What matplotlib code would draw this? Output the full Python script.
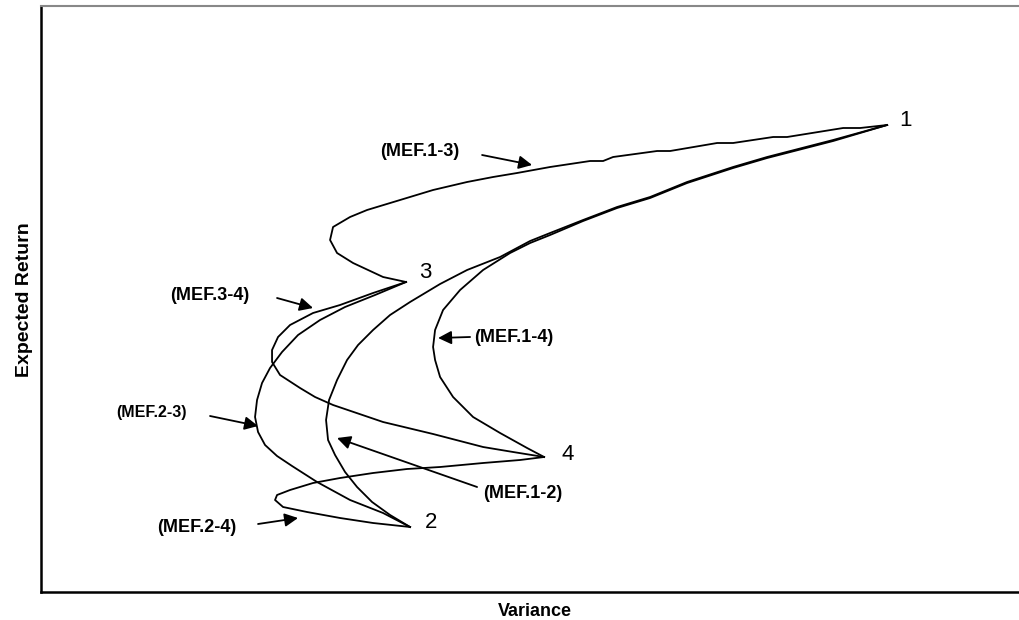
import matplotlib
matplotlib.use("Agg")
import matplotlib.pyplot as plt

plt.rcParams['font.family'] = ['Liberation Sans', 'DejaVu Sans']

# corner portfolios (variance, expected return)
corners = {
    "1": (84.6, 46.7),
    "2": (36.9, 6.5),
    "3": (36.5, 31.0),
    "4": (50.3, 13.5),
}
corner_text_pos = {
    "1": (85.8, 47.1),
    "2": (38.4, 6.9),
    "3": (37.8, 31.9),
    "4": (52.0, 13.7),
}

# frontier traces
mef13_var = [84.6, 81.9, 80.2, 74.6, 73.2, 69.2, 67.6, 62.9, 61.6, 57.2, 56.2, 54.9,
             50.9, 47.6, 45.2, 42.6, 39.2, 35.9, 32.6, 30.9, 29.2, 28.9, 29.6, 31.2,
             34.2, 36.5]
mef13_ret = [46.7, 46.4, 46.4, 45.5, 45.5, 44.9, 44.9, 44.1, 44.1, 43.5, 43.1, 43.1,
             42.5, 41.9, 41.5, 41.0, 40.2, 39.2, 38.2, 37.5, 36.5, 35.2, 33.9, 32.9,
             31.5, 31.0]

mef12_var = [84.6, 79.2, 72.6, 69.2, 64.6, 60.9, 57.6, 54.2, 50.9, 48.9, 45.9, 42.6,
             39.9, 36.9, 34.9, 33.2, 31.7, 30.6, 29.6, 28.8, 28.5, 28.7, 29.4, 30.4,
             31.6, 33.1, 34.9, 36.9]
mef12_ret = [46.7, 45.2, 43.5, 42.5, 41.0, 39.5, 38.5, 37.2, 35.9, 35.1, 33.5, 32.2,
             30.8, 29.0, 27.7, 26.2, 24.7, 23.2, 21.2, 19.2, 17.2, 15.2, 13.7, 12.0,
             10.5, 9.0, 7.7, 6.5]

mef14_var = [84.6, 79.2, 72.6, 69.2, 64.6, 60.9, 57.6, 54.2, 50.9, 48.9, 46.9, 44.2,
             41.9, 40.2, 39.4, 39.2, 39.4, 39.9, 41.2, 43.2, 45.9, 48.6, 50.3]
mef14_ret = [46.7, 45.1, 43.4, 42.4, 40.9, 39.4, 38.4, 37.1, 35.7, 34.9, 33.9, 32.2,
             30.2, 28.2, 26.2, 24.5, 23.2, 21.5, 19.5, 17.5, 15.9, 14.4, 13.5]

mef34_var = [36.5, 33.2, 29.9, 27.2, 24.9, 23.7, 23.1, 23.1, 23.9, 25.9, 27.4, 29.2,
             34.2, 39.2, 44.2, 47.2, 50.3]
mef34_ret = [31.0, 29.9, 28.7, 27.9, 26.7, 25.5, 24.2, 23.0, 21.7, 20.4, 19.5, 18.7,
             17.0, 15.8, 14.5, 14.0, 13.5]

mef23_var = [36.5, 33.4, 30.4, 27.9, 25.7, 24.1, 22.9, 22.1, 21.6, 21.4, 21.7, 22.4,
             23.6, 25.1, 27.6, 30.9, 34.2, 36.9]
mef23_ret = [31.0, 29.7, 28.5, 27.2, 25.7, 24.0, 22.4, 20.9, 19.2, 17.5, 16.0, 14.7,
             13.6, 12.6, 11.0, 9.2, 7.9, 6.5]

mef24_var = [36.9, 33.2, 29.9, 26.6, 24.2, 23.4, 23.6, 24.9, 27.2, 29.9, 33.2, 36.6,
             39.9, 44.2, 47.9, 50.3]
mef24_ret = [6.5, 6.9, 7.4, 8.0, 8.5, 9.2, 9.7, 10.2, 10.9, 11.4, 11.9, 12.3,
             12.5, 12.9, 13.2, 13.5]

curves = [
    (mef13_var, mef13_ret),
    (mef12_var, mef12_ret),
    (mef14_var, mef14_ret),
    (mef34_var, mef34_ret),
    (mef23_var, mef23_ret),
    (mef24_var, mef24_ret),
]

# annotation labels: text, text position, arrow tail, arrow head
labels = ["(MEF.1-3)", "(MEF.3-4)", "(MEF.1-4)", "(MEF.2-3)", "(MEF.1-2)", "(MEF.2-4)"]
label_pos = [(37.9, 44.0), (16.9, 29.7), (47.3, 25.5), (11.0, 17.9), (48.2, 9.9), (15.6, 6.5)]
arrow_tail = [(44.1, 43.7), (23.6, 29.4), (42.9, 25.5), (16.9, 17.6), (43.6, 10.5), (21.7, 6.8)]
arrow_head = [(49.1, 42.7), (27.2, 28.4), (39.7, 25.4), (21.7, 16.6), (29.6, 15.4), (25.7, 7.4)]
label_size = [13, 13, 13, 11.5, 13, 13]

fig = plt.figure(figsize=(10.19, 6.2), dpi=100)
ax = fig.add_axes([41 / 1019, 28 / 620, 1 - 41 / 1019 + 0.01, 586 / 620])

for xs, ys in curves:
    ax.plot(xs, ys, color="black", lw=1.3, solid_joinstyle="round")

for name, (x, y) in corner_text_pos.items():
    ax.text(x, y, name, fontsize=16, ha="left", va="center")

for txt, pos, tail, head, fs in zip(labels, label_pos, arrow_tail, arrow_head, label_size):
    ax.text(pos[0], pos[1], txt, fontsize=fs, fontweight="bold",
            ha="center", va="center")
    ax.annotate("", xy=head, xytext=tail,
                arrowprops=dict(arrowstyle="-|>", color="black", lw=1.3,
                                mutation_scale=20, shrinkA=0, shrinkB=0))

ax.set_xlim(0, 98.8)
ax.set_ylim(0, 58.6)
ax.set_xticks([])
ax.set_yticks([])
ax.spines["right"].set_visible(False)
ax.spines["top"].set_color("#888888")
ax.spines["top"].set_linewidth(1.5)
ax.spines["left"].set_linewidth(1.8)
ax.spines["bottom"].set_linewidth(1.8)

fig.text(535 / 1019, 1 - 611 / 620, "Variance", fontsize=13, fontweight="bold",
         ha="center", va="center")
fig.text(25 / 1019, 1 - 300 / 620, "Expected Return", fontsize=14, fontweight="bold",
         ha="center", va="center", rotation=90)

fig.savefig("out.png", dpi=100)
